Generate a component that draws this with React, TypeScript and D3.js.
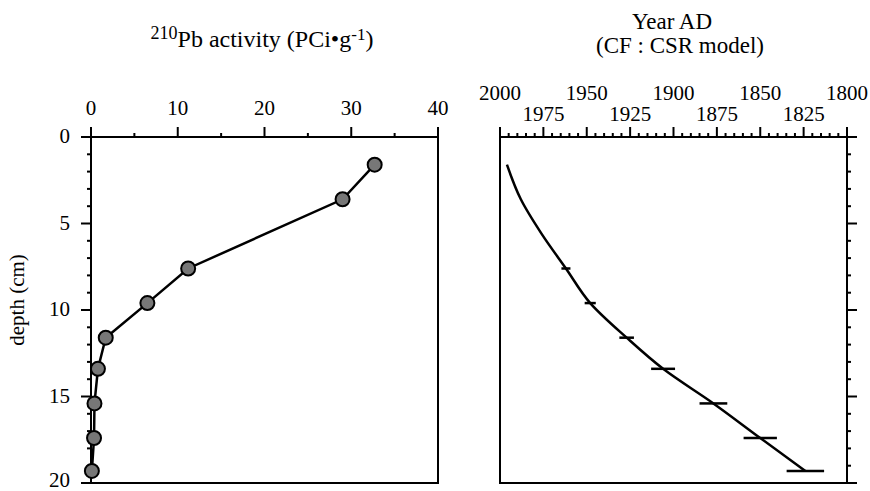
import React from "react";
import * as d3 from "d3";

// 210Pb profile
const sampleDepth = [1.6, 3.6, 7.6, 9.6, 11.6, 13.4, 15.4, 17.4, 19.3];
const pbActivity = [32.7, 29.0, 11.2, 6.5, 1.7, 0.8, 0.4, 0.35, 0.1];

// CF:CSR age model curve
const curveDepth = [1.6, 3.6, 5.6, 7.6, 9.6, 11.6, 13.4, 15.4, 17.4, 19.3];
const curveYear = [1996, 1988, 1976, 1962, 1948, 1927, 1906, 1877, 1850, 1824];

// dated levels with error
const dateDepth = [7.6, 9.6, 11.6, 13.4, 15.4, 17.4, 19.3];
const dateYear = [1962, 1948, 1927, 1906, 1877, 1850, 1824];
const dateErr = [2.6, 3.2, 4.2, 6.9, 8.0, 9.6, 10.8];

const pbTicks = [0, 10, 20, 30, 40];
const depthTicks = [0, 5, 10, 15, 20];
const yearTicksTop = [2000, 1950, 1900, 1850, 1800];
const yearTicksLow = [1975, 1925, 1875, 1825];

const width = 870;
const height = 491;
const font = "'Liberation Serif', 'Times New Roman', serif";
const tickFont = 21;
const titleFont = 23;

const xPb = d3.scaleLinear().domain([0, 40]).range([91, 438]);
const y = d3.scaleLinear().domain([0, 20]).range([137, 483]);
const xYear = d3.scaleLinear().domain([2000, 1800]).range([500, 847]);

const pbLine = d3
  .line<number>()
  .x((_, i) => xPb(pbActivity[i]))
  .y((_, i) => y(sampleDepth[i]));

const ageLine = d3
  .line<number>()
  .x((_, i) => xYear(curveYear[i]))
  .y((_, i) => y(curveDepth[i]))
  .curve(d3.curveMonotoneY);

const minorDepth = d3.range(0, 21).filter((d) => d % 5 !== 0);
const minorPb = d3.range(5, 40, 10);
const minorYear = d3.range(1995, 1800, -5).filter((d) => d % 25 !== 0);
const majorYear = d3.range(2000, 1799, -25);

export default function App() {
  const sw = 2;
  return (
    <svg
      width={width}
      height={height}
      style={{ position: "absolute", left: 0, top: 0, background: "#fff" }}
      fontFamily={font}
    >
      {/* left panel titles */}
      <text x={262} y={47} textAnchor="middle" fontSize={24}>
        <tspan fontSize={18} dy={-8}>210</tspan>
        <tspan fontSize={24} dy={8}>Pb activity (PCi•g</tspan>
        <tspan fontSize={17} dy={-7}>-1</tspan>
        <tspan fontSize={24} dy={7}>)</tspan>
      </text>
      <text
        transform={`translate(24,300) rotate(-90)`}
        textAnchor="middle"
        fontSize={tickFont}
      >
        depth (cm)
      </text>

      {/* left frame */}
      <rect x={91} y={137} width={347} height={346} fill="none" stroke="#000" strokeWidth={sw} />
      {pbTicks.map((t) => (
        <g key={"pt" + t}>
          <line x1={xPb(t)} x2={xPb(t)} y1={137} y2={127} stroke="#000" strokeWidth={sw} />
          <text x={xPb(t)} y={115} textAnchor="middle" fontSize={tickFont}>{t}</text>
        </g>
      ))}
      {minorPb.map((t) => (
        <line key={"pm" + t} x1={xPb(t)} x2={xPb(t)} y1={137} y2={133} stroke="#000" strokeWidth={sw} />
      ))}
      {depthTicks.map((t) => (
        <g key={"dt" + t}>
          <line x1={81} x2={91} y1={y(t)} y2={y(t)} stroke="#000" strokeWidth={sw} />
          <text x={70} y={Math.min(y(t) + 6, 487)} textAnchor="end" fontSize={tickFont}>{t}</text>
        </g>
      ))}
      {minorDepth.map((t) => (
        <line key={"dm" + t} x1={87} x2={91} y1={y(t)} y2={y(t)} stroke="#000" strokeWidth={sw} />
      ))}

      <path d={pbLine(sampleDepth) || ""} fill="none" stroke="#000" strokeWidth={2.5} />
      {sampleDepth.map((d, i) => (
        <circle key={"c" + i} cx={xPb(pbActivity[i])} cy={y(d)} r={7} fill="#777" stroke="#000" strokeWidth={2} />
      ))}

      {/* right panel titles */}
      <text x={672} y={29} textAnchor="middle" fontSize={titleFont}>Year AD</text>
      <text x={680} y={53} textAnchor="middle" fontSize={titleFont}>(CF : CSR model)</text>

      <rect x={500} y={137} width={347} height={346} fill="none" stroke="#000" strokeWidth={sw} />
      {majorYear.map((t) => (
        <line key={"ym" + t} x1={xYear(t)} x2={xYear(t)} y1={137} y2={127} stroke="#000" strokeWidth={sw} />
      ))}
      {minorYear.map((t) => (
        <line key={"yn" + t} x1={xYear(t)} x2={xYear(t)} y1={137} y2={133} stroke="#000" strokeWidth={sw} />
      ))}
      {yearTicksTop.map((t) => (
        <text key={"yt" + t} x={xYear(t)} y={100} textAnchor="middle" fontSize={tickFont}>{t}</text>
      ))}
      {yearTicksLow.map((t) => (
        <text key={"yl" + t} x={xYear(t)} y={121} textAnchor="middle" fontSize={tickFont}>{t}</text>
      ))}
      {depthTicks.map((t) => (
        <line key={"rt" + t} x1={847} x2={857} y1={y(t)} y2={y(t)} stroke="#000" strokeWidth={sw} />
      ))}
      {minorDepth.map((t) => (
        <line key={"rm" + t} x1={847} x2={851} y1={y(t)} y2={y(t)} stroke="#000" strokeWidth={sw} />
      ))}

      <path d={ageLine(curveDepth) || ""} fill="none" stroke="#000" strokeWidth={2.5} />
      {dateDepth.map((d, i) => (
        <line
          key={"e" + i}
          x1={xYear(dateYear[i] + dateErr[i])}
          x2={xYear(dateYear[i] - dateErr[i])}
          y1={y(d)}
          y2={y(d)}
          stroke="#000"
          strokeWidth={2.5}
        />
      ))}
    </svg>
  );
}
